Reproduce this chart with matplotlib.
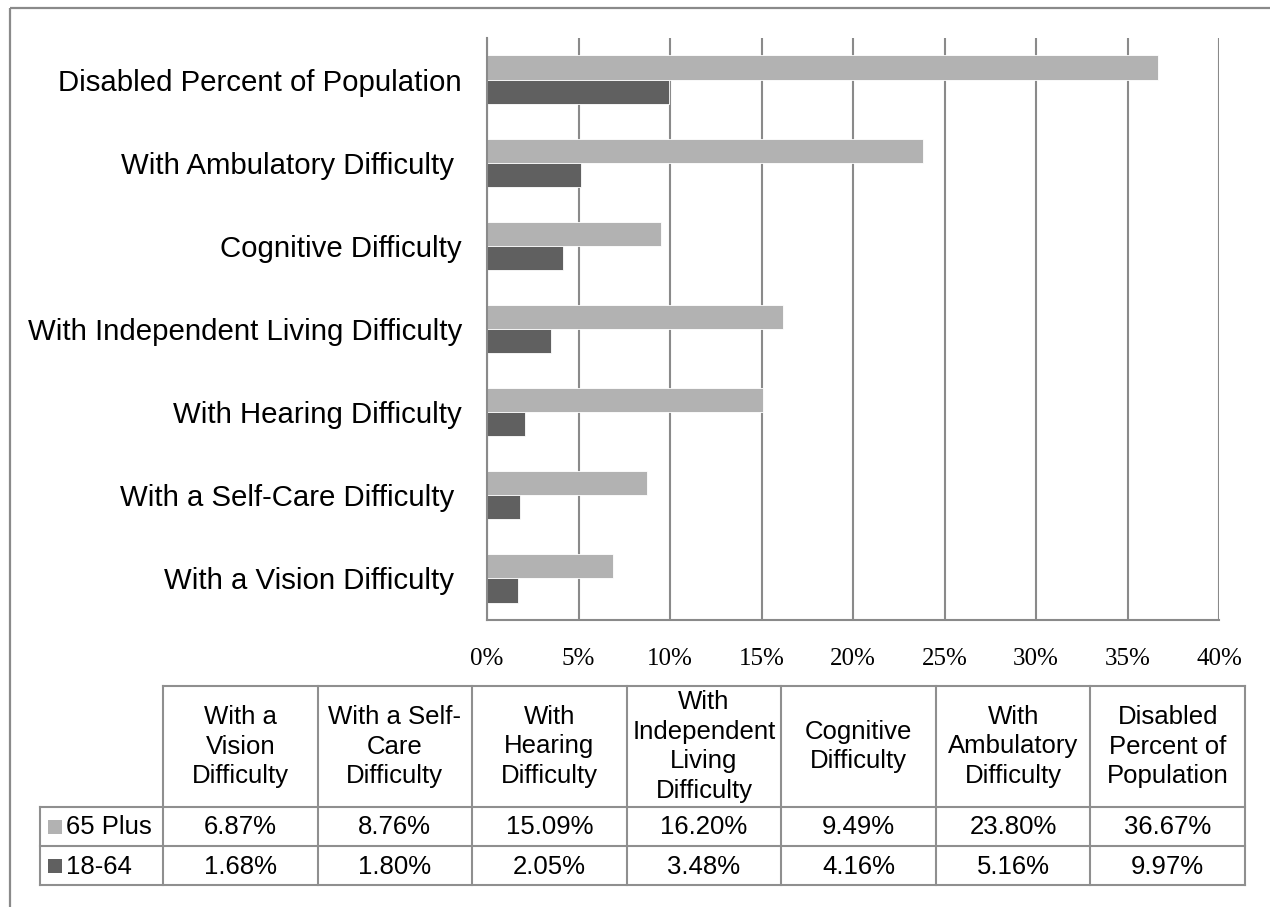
import matplotlib
matplotlib.use("Agg")
import matplotlib.pyplot as plt
from matplotlib.patches import Rectangle
import numpy as np

# ---- data ----
categories = ["With a Vision Difficulty ", "With a Self-Care Difficulty ", "With Hearing Difficulty",
              "With Independent Living Difficulty", "Cognitive Difficulty",
              "With Ambulatory Difficulty ", "Disabled Percent of Population"]
table_headers = ["With a\nVision\nDifficulty", "With a Self-\nCare\nDifficulty", "With\nHearing\nDifficulty",
                 "With\nIndependent\nLiving\nDifficulty", "Cognitive\nDifficulty",
                 "With\nAmbulatory\nDifficulty", "Disabled\nPercent of\nPopulation"]
series_names = ["65 Plus", "18-64"]
plus65 = [6.87, 8.76, 15.09, 16.20, 9.49, 23.80, 36.67]
age18_64 = [1.68, 1.80, 2.05, 3.48, 4.16, 5.16, 9.97]
xticks = [0, 5, 10, 15, 20, 25, 30, 35, 40]

colors = ["#b2b2b2", "#606060"]
grid_c = "#8a8a8a"
W, H = 1270, 907

fig = plt.figure(figsize=(W / 100, H / 100), dpi=100)

# overlay axes in pixel coordinates for frame and table
ov = fig.add_axes([0, 0, 1, 1])
ov.set_xlim(0, W)
ov.set_ylim(H, 0)
ov.axis("off")

# outer frame (cropped on right/bottom)
ov.plot([10, 10], [8, H + 5], color=grid_c, lw=1.6, solid_capstyle="butt")
ov.plot([10, W + 5], [8, 8], color=grid_c, lw=1.6, solid_capstyle="butt")

# main bar axes
left, right, top, bottom = 487, 1219, 38, 620
ax = fig.add_axes([left / W, 1 - bottom / H, (right - left) / W, (bottom - top) / H])
y = np.arange(len(categories))
bh = 0.29
ax.barh(y + bh / 2, plus65, height=bh, color=colors[0], edgecolor="white", linewidth=0.6, zorder=3)
ax.barh(y - bh / 2, age18_64, height=bh, color=colors[1], edgecolor="white", linewidth=0.6, zorder=3)
ax.set_ylim(-0.5, len(categories) - 0.5)
ax.set_xlim(0, 40)
ax.set_xticks(xticks)
ax.set_xticklabels([f"{v}%" for v in xticks], fontfamily="Liberation Serif", fontsize=18)
ax.set_yticks(y)
ax.set_yticklabels(categories, fontfamily="Liberation Sans", fontsize=21.2)
ax.tick_params(axis="both", length=0)
ax.tick_params(axis="y", pad=18)
ax.tick_params(axis="x", pad=20)
ax.grid(axis="x", color=grid_c, lw=1.5, zorder=0)
for s in ["top", "right"]:
    ax.spines[s].set_visible(False)
ax.spines["left"].set_color(grid_c)
ax.spines["left"].set_linewidth(1.5)
ax.spines["bottom"].set_color(grid_c)
ax.spines["bottom"].set_linewidth(1.5)
ax.spines["left"].set_zorder(4)

# ---- data table ----
t_left, t_right = 163, 1245
lab_left = 40
h_top, h_bot = 686, 807
row_h = 39
ncol = len(categories)
cw = (t_right - t_left) / ncol
lc = "#8f8f8f"
lw = 1.5
tf = dict(fontfamily="Liberation Sans", fontsize=18.5, color="black")

rows = [plus65, age18_64]
r_bots = [h_bot + row_h * (i + 1) for i in range(len(rows))]
# horizontal lines
ov.plot([t_left, t_right], [h_top, h_top], color=lc, lw=lw)
ov.plot([lab_left, t_right], [h_bot, h_bot], color=lc, lw=lw)
for rb in r_bots:
    ov.plot([lab_left, t_right], [rb, rb], color=lc, lw=lw)
# vertical lines
ov.plot([lab_left, lab_left], [h_bot, r_bots[-1]], color=lc, lw=lw)
for k in range(ncol + 1):
    xk = t_left + k * cw
    ov.plot([xk, xk], [h_top, r_bots[-1]], color=lc, lw=lw)

for k, hd in enumerate(table_headers):
    ov.text(t_left + (k + 0.5) * cw, (h_top + h_bot) / 2, hd, ha="center", va="center",
            linespacing=1.3, **tf)

for i, (name, vals) in enumerate(zip(series_names, rows)):
    yc = h_bot + row_h * (i + 0.5)
    ov.add_patch(Rectangle((48, yc - 7), 14, 14, color=colors[i], lw=0))
    ov.text(66, yc + 1, name, ha="left", va="center", **tf)
    for k, v in enumerate(vals):
        ov.text(t_left + (k + 0.5) * cw, yc + 1, f"{v:.2f}%", ha="center", va="center", **tf)

fig.savefig("out.png", dpi=100)
